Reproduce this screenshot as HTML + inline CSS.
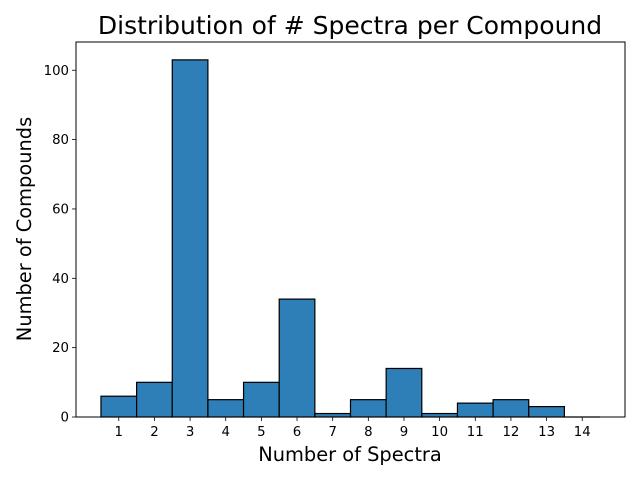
<!DOCTYPE html>
<html><head><meta charset="utf-8"><style>
body{margin:0;background:#fff;}
svg{display:block;font-family:"DejaVu Sans","Liberation Sans",sans-serif;}
</style></head><body>
<svg id="chart" width="640" height="480">
<text x="350" y="34" font-size="25" text-anchor="middle">Distribution of # Spectra per Compound</text>
<text x="350" y="461" font-size="19.4" text-anchor="middle">Number of Spectra</text>
<text transform="translate(31,229) rotate(-90)" font-size="19.4" text-anchor="middle">Number of Compounds</text>
<g id="bars"></g><g id="axes"></g>
</svg>
<script>
const categories=[1,2,3,4,5,6,7,8,9,10,11,12,13,14];
const counts=[6,10,103,5,10,34,1,5,14,1,4,5,3,0];
const yTicks=[0,20,40,60,80,100];
const L=76,R=625,T=42,B=417;
const xMin=-0.2,xMax=15.2,yMax=108.15;
const sx=v=>L+(v-xMin)/(xMax-xMin)*(R-L);
const sy=v=>B-v/yMax*(B-T);
const NS="http://www.w3.org/2000/svg";
const bars=document.getElementById('bars'),axes=document.getElementById('axes');
function mk(tag,attrs,parent){const e=document.createElementNS(NS,tag);for(const k in attrs)e.setAttribute(k,attrs[k]);parent.appendChild(e);return e;}
categories.forEach((c,i)=>{
  const x0=sx(c-0.5),x1=sx(c+0.5),y=sy(counts[i]);
  let r;
  if(counts[i]>0){
    r=mk('rect',{x:x0,y:y,width:x1-x0,height:B-y,fill:'#2e7eb7',stroke:'#000','stroke-width':1.2},bars);
  }else{
    r=mk('line',{x1:x0,x2:x1,y1:B,y2:B,stroke:'#000','stroke-width':1.2},bars);
  }
  
  
  const t=mk('line',{x1:sx(c),x2:sx(c),y1:B,y2:B+4,stroke:'#000','stroke-width':0.8},axes);
  
  
  const lb=mk('text',{x:sx(c),y:B+19,'font-size':13.3,'text-anchor':'middle'},axes);
  lb.textContent=c;
  
  
});
yTicks.forEach(v=>{
  const t=mk('line',{x1:L-4,x2:L,y1:sy(v),y2:sy(v),stroke:'#000','stroke-width':0.8},axes);
  
  
  const lb=mk('text',{x:L-7,y:sy(v)+4.5,'font-size':13.3,'text-anchor':'end'},axes);
  lb.textContent=v;
  
  
});
const f=mk('rect',{x:L,y:T,width:R-L,height:B-T,fill:'none',stroke:'#000','stroke-width':1},axes);


</script>
</body></html>
